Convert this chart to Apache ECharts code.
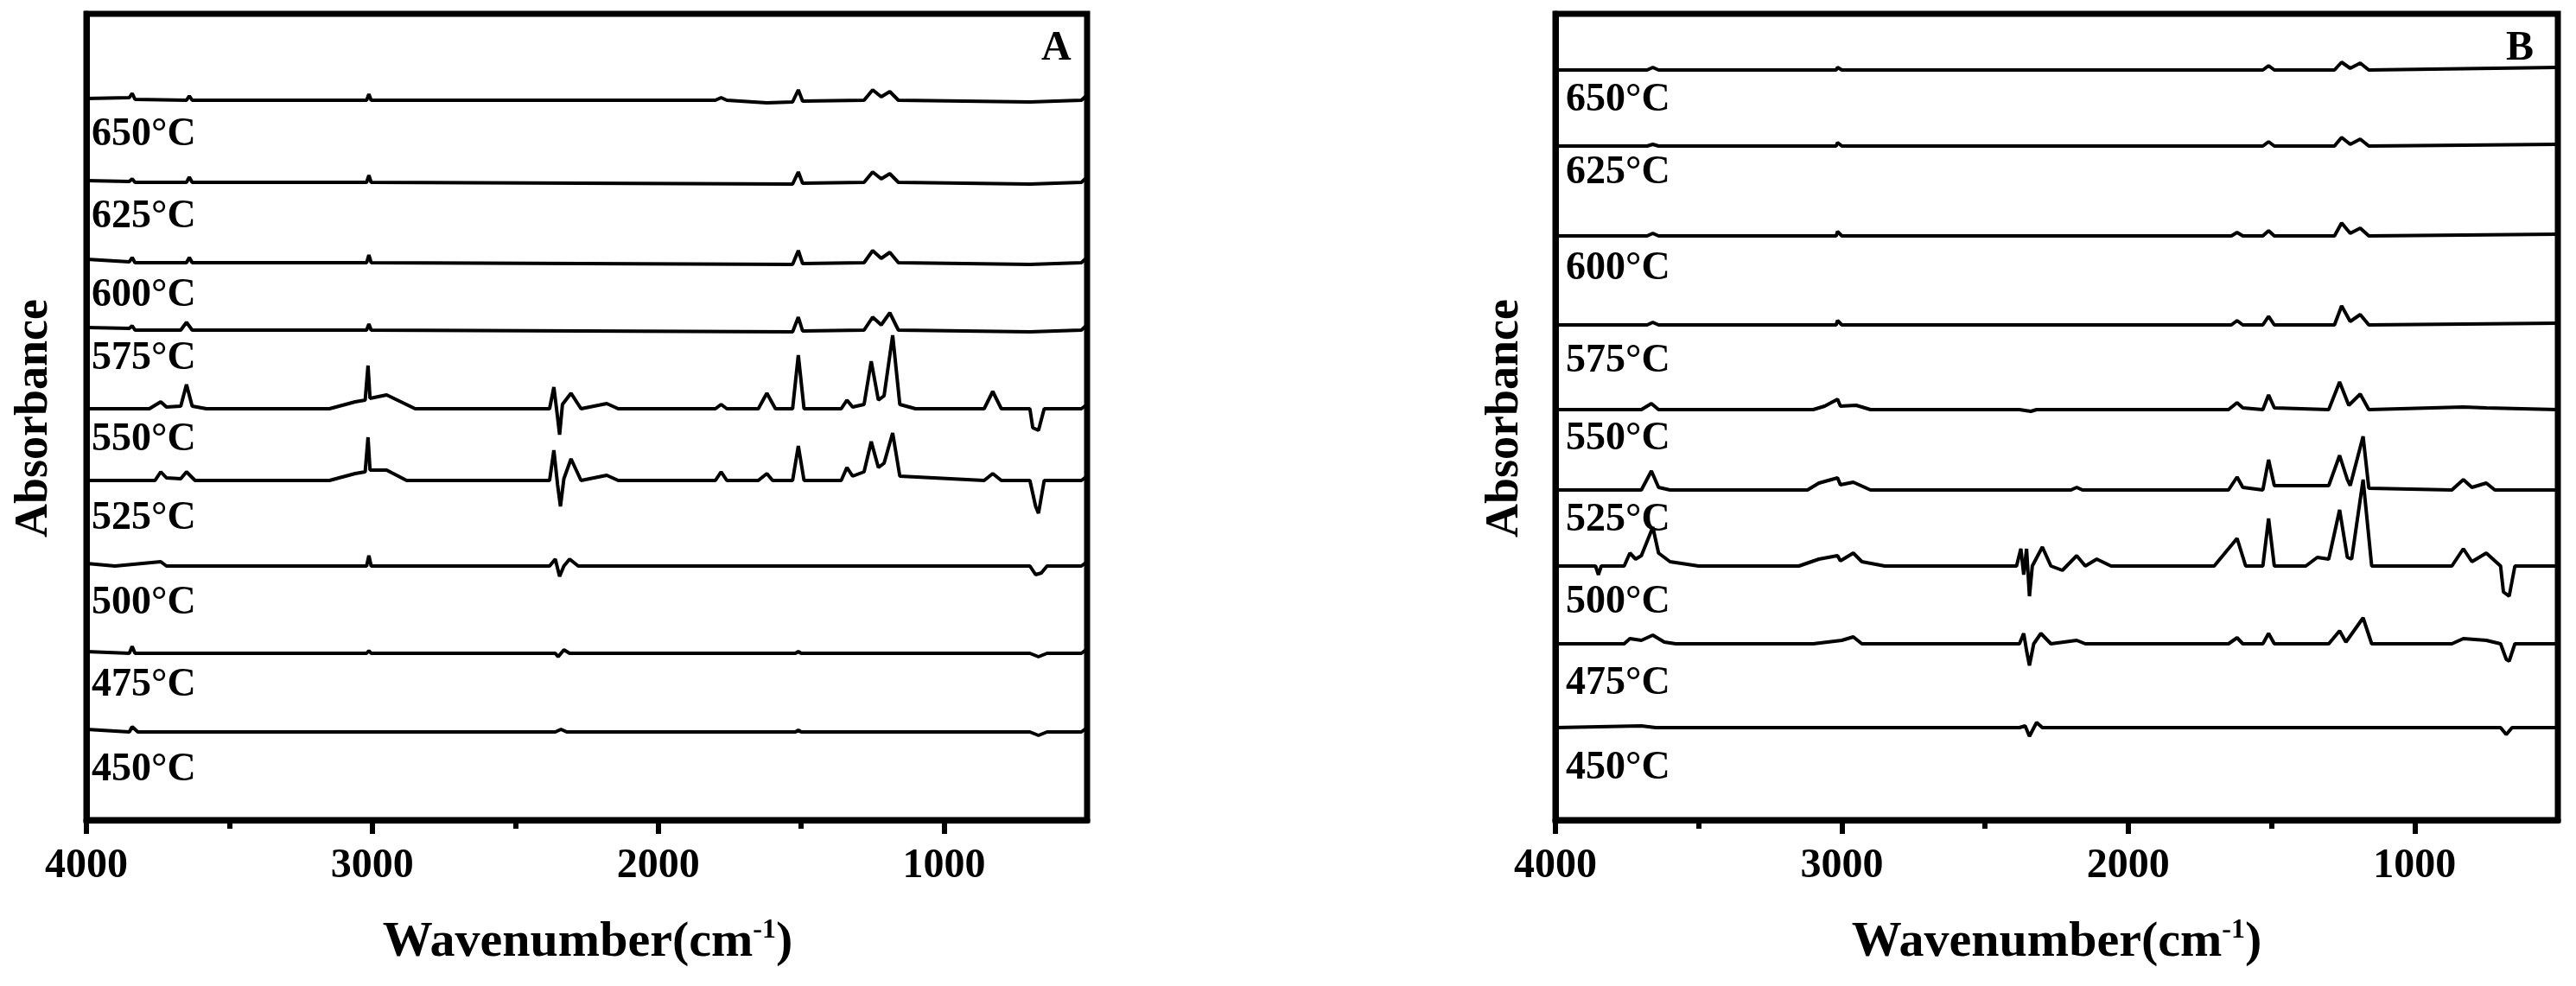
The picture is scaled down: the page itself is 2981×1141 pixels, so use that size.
<!DOCTYPE html>
<html><head><meta charset="utf-8">
<script src="https://cdn.jsdelivr.net/npm/echarts@6/dist/echarts.min.js"></script>
<style>html,body{margin:0;padding:0;background:#fff}#c{width:2981px;height:1141px}</style>
</head><body><div id="c"></div>
<script>
const temps = ['650°C','625°C','600°C','575°C','550°C','525°C','500°C','475°C','450°C'];
const majorTicks = [4000,3000,2000,1000];
const minorTicks = [3500,2500,1500];
const offsetsA = [833,738,645,567,476,393,294,193,102];
const offsetsB = [868,780,676,573,475,382,294,204,107];

const A650 = [[4000,2],[3850,3],[3840,8],[3830,1],[3650,0],[3640,5],[3630,0],[3020,0],[3012,7],[3004,0],[1800,0],[1780,3],[1760,0],[1620,-3],[1530,-2],[1510,12],[1495,-1],[1280,0],[1250,12],[1220,4],[1190,10],[1160,0],[700,-2],[520,0],[500,6]];
const A625 = [[4000,2],[3850,1],[3840,4],[3830,0],[3650,0],[3640,6],[3630,0],[3020,0],[3012,8],[3004,0],[1530,-2],[1510,12],[1495,-1],[1280,0],[1250,12],[1220,4],[1190,10],[1160,0],[700,-2],[520,0],[500,6]];
const A600 = [[4000,4],[3850,1],[3840,6],[3830,0],[3650,0],[3640,6],[3630,0],[3020,0],[3012,9],[3004,0],[1530,-2],[1510,14],[1495,-1],[1280,0],[1250,14],[1220,5],[1190,12],[1160,0],[700,-2],[520,0],[500,6]];
const A575 = [[4000,3],[3850,2],[3840,5],[3830,0],[3670,0],[3650,9],[3630,0],[3020,0],[3012,7],[3004,0],[1530,-2],[1510,15],[1495,-1],[1280,0],[1250,15],[1220,6],[1190,20],[1160,0],[700,-2],[520,0],[500,6]];
const A550 = [[4000,0],[3780,0],[3740,8],[3720,2],[3670,3],[3650,28],[3630,3],[3580,0],[3150,0],[3060,8],[3025,10],[3015,50],[3008,12],[2950,16],[2900,8],[2850,0],[2380,0],[2365,25],[2352,-10],[2345,-30],[2335,5],[2305,18],[2270,0],[2180,6],[2140,0],[1800,0],[1780,5],[1760,0],[1650,0],[1620,18],[1590,0],[1530,0],[1510,62],[1490,0],[1360,0],[1340,10],[1320,2],[1280,5],[1255,55],[1230,10],[1210,15],[1180,85],[1155,5],[1100,0],[1000,0],[860,0],[830,20],[800,0],[700,0],[690,-22],[670,-25],[650,0],[520,0],[500,5]];
const A525 = [[4000,0],[3760,0],[3740,10],[3720,3],[3670,2],[3650,10],[3620,0],[3150,0],[3060,8],[3025,10],[3015,50],[3008,12],[2950,12],[2880,0],[2380,0],[2365,35],[2352,-5],[2342,-30],[2330,2],[2305,25],[2270,0],[2180,6],[2140,0],[1800,0],[1780,10],[1760,0],[1650,0],[1620,8],[1600,0],[1530,0],[1510,40],[1490,0],[1360,0],[1340,15],[1320,5],[1280,10],[1255,45],[1230,15],[1210,20],[1180,55],[1155,5],[860,0],[830,8],[800,0],[700,0],[680,-30],[670,-38],[650,0],[520,0],[500,5]];
const A500 = [[4000,3],[3900,0],[3740,5],[3720,0],[3020,0],[3012,12],[3004,0],[2380,0],[2360,8],[2345,-12],[2330,0],[2310,8],[2280,0],[700,0],[680,-10],[660,-8],[640,0],[520,0],[500,5]];
const A475 = [[4000,2],[3850,0],[3840,8],[3830,0],[3020,0],[3012,3],[3004,0],[2360,0],[2350,-4],[2330,4],[2310,0],[1520,0],[1510,2],[1500,0],[700,0],[670,-4],[640,0],[520,0],[500,5]];
const A450 = [[4000,3],[3850,0],[3840,6],[3820,0],[3700,0],[2360,0],[2340,3],[2320,0],[1520,0],[1510,2],[1500,0],[700,0],[670,-4],[640,0],[520,0],[500,5]];

const B650 = [[4000,0],[3680,0],[3660,3],[3640,0],[3020,0],[3015,3],[3000,0],[1530,0],[1510,5],[1490,0],[1280,0],[1255,9],[1225,2],[1190,8],[1160,0],[500,3]];
const B625 = [[4000,0],[3680,0],[3660,2],[3640,0],[3020,0],[3015,4],[3000,0],[1530,0],[1510,5],[1490,0],[1280,0],[1255,10],[1225,2],[1190,8],[1160,0],[500,2]];
const B600 = [[4000,0],[3680,0],[3660,3],[3640,0],[3020,0],[3015,5],[3000,0],[1640,0],[1620,4],[1600,0],[1530,0],[1510,6],[1490,0],[1280,0],[1255,15],[1225,3],[1190,9],[1160,0],[500,2]];
const B575 = [[4000,0],[3680,0],[3660,3],[3640,0],[3020,0],[3015,5],[3000,0],[1640,0],[1620,5],[1600,0],[1530,0],[1510,10],[1490,0],[1280,0],[1255,22],[1225,4],[1190,12],[1160,0],[500,2]];
const B550 = [[4000,0],[3700,0],[3665,7],[3640,0],[3100,0],[3060,4],[3015,12],[3005,4],[2950,5],[2900,0],[2380,0],[2340,-2],[2320,0],[1650,0],[1620,8],[1600,2],[1530,0],[1510,17],[1490,2],[1300,0],[1262,32],[1230,5],[1190,18],[1160,0],[830,3],[750,2],[500,0]];
const B525 = [[4000,0],[3700,0],[3665,22],[3640,3],[3600,0],[3120,0],[3080,8],[3015,14],[3005,6],[2960,9],[2900,0],[2200,0],[2180,3],[2160,0],[1650,0],[1620,15],[1600,3],[1530,0],[1510,35],[1490,5],[1300,5],[1262,40],[1235,12],[1225,5],[1180,62],[1160,2],[870,0],[830,12],[800,3],[750,8],[720,0],[500,0]];
const B500 = [[4000,0],[3860,0],[3850,-10],[3840,0],[3760,0],[3740,15],[3720,8],[3700,12],[3660,45],[3640,15],[3600,5],[3500,0],[3150,0],[3080,8],[3015,12],[3005,6],[2960,15],[2930,5],[2850,0],[2390,0],[2375,20],[2365,-10],[2355,20],[2345,-35],[2335,0],[2300,22],[2270,0],[2230,-5],[2180,12],[2150,0],[2110,8],[2060,0],[1700,0],[1620,32],[1590,0],[1530,0],[1510,55],[1490,0],[1380,0],[1340,10],[1300,8],[1262,65],[1235,10],[1220,8],[1180,100],[1150,0],[870,0],[830,20],[800,5],[750,15],[700,0],[690,-30],[670,-35],[650,0],[500,0]];
const B475 = [[4000,0],[3760,0],[3740,6],[3700,4],[3660,10],[3620,2],[3580,0],[3100,0],[3000,4],[2960,8],[2930,0],[2380,0],[2365,12],[2355,-8],[2345,-25],[2330,0],[2305,12],[2270,0],[2180,4],[2150,0],[1650,0],[1620,7],[1600,0],[1530,0],[1510,12],[1490,0],[1300,0],[1262,15],[1240,2],[1180,30],[1150,0],[870,0],[830,6],[750,4],[700,0],[680,-18],[670,-20],[650,0],[500,0]];
const B450 = [[4000,0],[3700,2],[3650,0],[2380,0],[2360,2],[2345,-10],[2320,6],[2300,0],[700,0],[680,-8],[660,0],[500,0]];

const spectraA = [A650,A625,A600,A575,A550,A525,A500,A475,A450];
const spectraB = [B650,B625,B600,B575,B550,B525,B500,B475,B450];

const FONT = 'Liberation Serif';
const chart = echarts.init(document.getElementById('c'));
const grids = [{left:100,top:16,width:1158,height:933},{left:1800,top:16,width:1160,height:933}];
const xAxes = [], yAxes = [], series = [];
grids.forEach((g,i)=>{
  xAxes.push({gridIndex:i,type:'value',min:500,max:4000,inverse:true,position:'bottom',
    axisLine:{show:true,lineStyle:{color:'#000',width:7}},
    axisTick:{show:true,length:16,lineStyle:{width:6,color:'#000'},customValues:majorTicks},
    axisLabel:{customValues:majorTicks,formatter:v=>String(v),margin:30,fontFamily:FONT,fontWeight:'bold',fontSize:48,color:'#000'},
    splitLine:{show:false}});
  xAxes.push({gridIndex:i,type:'value',min:500,max:4000,inverse:true,position:'bottom',
    axisLine:{show:false},axisLabel:{show:false},splitLine:{show:false},
    axisTick:{show:true,length:10,lineStyle:{width:6,color:'#000'},customValues:minorTicks}});
  yAxes.push({gridIndex:i,type:'value',min:0,max:933,show:true,
    axisLine:{show:true,lineStyle:{color:'#000',width:7}},axisTick:{show:false},axisLabel:{show:false},splitLine:{show:false}});
});
[[spectraA,offsetsA],[spectraB,offsetsB]].forEach(([sp,off],gi)=>{
  sp.forEach((d,k)=>{
    series.push({type:'line',xAxisIndex:gi*2,yAxisIndex:gi,showSymbol:false,silent:true,
      lineStyle:{color:'#000',width:4},data:d.map(p=>[p[0],p[1]+off[k]])});
  });
});
const labelYA = [156,251,342,415,509,600,698,793,891];
const labelYB = [116,200,311,418,508,602,697,791,889];
const txt = (x,y,t,size,extra)=>Object.assign({type:'text',x,y,style:{text:t,font:`bold ${size}px "${FONT}"`,fill:'#000',textVerticalAlign:'middle'}},extra||{});
const graphic = [];
temps.forEach((t,k)=>{graphic.push(txt(106,labelYA[k],t,46));graphic.push(txt(1812,labelYB[k],t,46));});
graphic.push(txt(1205,57,'A',48));
graphic.push(txt(2900,57,'B',48));
[[40,484],[1742,484]].forEach(([x,y])=>graphic.push({type:'text',x,y,rotation:Math.PI/2,style:{text:'Absorbance',font:`bold 54px "${FONT}"`,fill:'#000',textAlign:'center',textVerticalAlign:'middle'}}));
[[680,1091],[2380,1091]].forEach(([x,y])=>graphic.push({type:'text',x,y,style:{
  text:'{a|Wavenumber(cm}{s|-1}{a|)}',textAlign:'center',textVerticalAlign:'middle',
  rich:{a:{font:`bold 58px "${FONT}"`,fill:'#000'},s:{font:`bold 32px "${FONT}"`,fill:'#000',verticalAlign:'top',padding:[0,0,28,0]}}}}));
chart.setOption({animation:false,backgroundColor:'#fff',
  grid:grids.map(g=>Object.assign({show:true,borderColor:'#000',borderWidth:7},g)),
  xAxis:xAxes,yAxis:yAxes,series,graphic});
</script></body></html>
